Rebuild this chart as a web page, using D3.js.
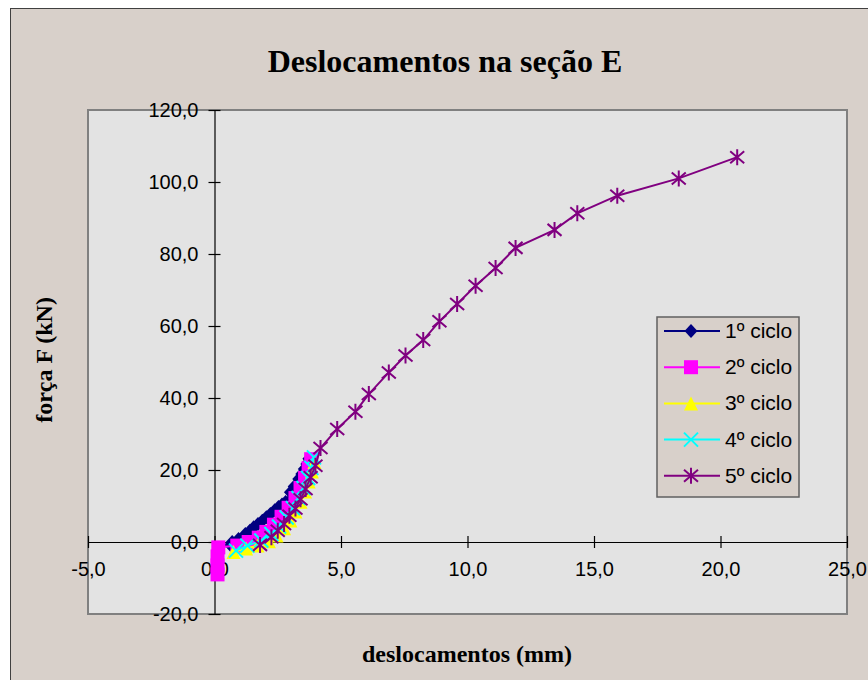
<!DOCTYPE html>
<html>
<head>
<meta charset="utf-8">
<script src="https://cdn.jsdelivr.net/npm/d3@7"></script>
<style>
  body { margin: 0; background: #fff; }
</style>
</head>
<body>
<div id="chart"></div>
<script>
// values (displacement mm, force kN)
const ciclo1X = [0.63, 0.70, 0.95, 1.22, 1.40, 1.55, 1.72, 1.89, 2.05, 2.21, 2.38, 2.53, 2.67, 2.81, 3.00, 3.15, 3.33, 3.45, 3.55, 3.65, 3.73];
const ciclo1Y = [-0.8, 0.0, 0.8, 2.2, 3.1, 4.1, 5.0, 5.9, 6.9, 7.8, 8.8, 9.7, 10.4, 11.1, 13.8, 15.4, 17.5, 18.9, 20.3, 21.7, 23.1];

const ciclo2X = [0.12, 0.12, 0.12, 0.15, 0.90, 1.35, 1.75, 2.05, 2.35, 2.65, 2.93, 3.20, 3.40, 3.58, 3.72, 3.82];
const ciclo2Y = [-9.0, -6.5, -4.0, -1.5, -1.0, 0.0, 1.2, 2.8, 4.8, 7.0, 9.5, 12.2, 15.0, 17.8, 20.5, 23.0];

const ciclo3X = [0.75, 1.25, 1.70, 2.15, 2.45, 2.75, 3.00, 3.20, 3.40, 3.58, 3.72, 3.85, 3.95];
const ciclo3Y = [-2.8, -1.8, -1.0, 0.2, 1.8, 3.8, 6.0, 8.5, 11.2, 14.0, 16.8, 19.6, 22.2];

const ciclo4X = [0.85, 1.30, 1.85, 2.25, 2.55, 2.85, 3.10, 3.32, 3.52, 3.70, 3.83, 3.93];
const ciclo4Y = [-2.4, -1.0, 0.4, 2.2, 4.3, 6.8, 9.4, 12.2, 15.0, 17.8, 20.6, 23.5];

const ciclo5X = [1.80, 2.25, 2.50, 2.75, 2.96, 3.20, 3.40, 3.60, 3.80, 3.99, 4.19, 4.85, 5.57, 6.10, 6.89, 7.55, 8.25, 8.89, 9.59, 10.32, 11.11, 11.90, 13.44, 14.34, 15.92, 18.35, 20.66];
const ciclo5Y = [-0.8, 1.3, 3.1, 5.0, 7.3, 9.3, 11.9, 14.7, 18.0, 21.2, 26.1, 31.4, 36.2, 41.1, 47.1, 51.8, 56.1, 61.3, 66.1, 71.2, 76.1, 81.7, 86.7, 91.3, 96.2, 101.0, 106.9];

const serieNomes = ["1º ciclo", "2º ciclo", "3º ciclo", "4º ciclo", "5º ciclo"];
const serieCores = ["#000080", "#ff00ff", "#ffff00", "#00ffff", "#800080"];
const serieMarcas = ["diamond", "square", "triangle", "x", "star"];

const xTicks = [-5, 0, 5, 10, 15, 20, 25];
const yTicks = [-20, 0, 20, 40, 60, 80, 100, 120];

const series = [
    [ciclo1X, ciclo1Y], [ciclo2X, ciclo2Y], [ciclo3X, ciclo3Y], [ciclo4X, ciclo4Y], [ciclo5X, ciclo5Y]
].map(([xs, ys], i) => ({
    name: serieNomes[i],
    color: serieCores[i],
    marker: serieMarcas[i],
    points: xs.map((x, j) => ({ x: x, y: ys[j] }))
}));

const width = 868, height = 680;
const plot = { left: 88, top: 110, right: 847, bottom: 614 };

const svg = d3.select("#chart").append("svg")
    .attr("width", width)
    .attr("height", height);

// chart area
svg.append("rect")
    .attr("x", 10.5).attr("y", 8.5)
    .attr("width", width).attr("height", height)
    .attr("fill", "#d8d0ca")
    .attr("stroke", "#404040")
    .attr("stroke-width", 1);

// plot area
svg.append("rect")
    .attr("x", plot.left).attr("y", plot.top)
    .attr("width", plot.right - plot.left).attr("height", plot.bottom - plot.top)
    .attr("fill", "#e3e3e3")
    .attr("stroke", "#808080")
    .attr("stroke-width", 2);

const x = d3.scaleLinear().domain([-5, 25]).range([plot.left, plot.right]);
const y = d3.scaleLinear().domain([-20, 120]).range([plot.bottom, plot.top]);

const fmt = d => d.toFixed(1).replace(".", ",");

// x axis crossing at y = 0
const xAxis = svg.append("g")
    .attr("transform", `translate(0,${y(0)})`)
    .call(d3.axisBottom(x).tickValues(xTicks).tickFormat(fmt).tickSize(6).tickSizeOuter(0));
xAxis.selectAll(".tick line").attr("y1", -6).attr("y2", 6);
xAxis.selectAll(".tick text").attr("y", 20);

// y axis crossing at x = 0
const yAxis = svg.append("g")
    .attr("transform", `translate(${x(0)},0)`)
    .call(d3.axisLeft(y).tickValues(yTicks).tickFormat(fmt).tickSize(6).tickSizeOuter(0));
yAxis.selectAll(".tick line").attr("x1", -6).attr("x2", 6);
yAxis.selectAll(".tick text").attr("x", -16);

svg.selectAll(".domain").attr("stroke", "#000").attr("stroke-width", 1.2);
svg.selectAll(".tick line").attr("stroke", "#000").attr("stroke-width", 1.2);
svg.selectAll(".tick text")
    .style("font-family", "Arial, 'Liberation Sans', sans-serif")
    .style("font-size", "20px")
    .attr("fill", "#000");

// markers
function drawMarker(g, type, color) {
    if (type === "diamond") {
        g.append("path").attr("d", "M0,-7L6.5,0L0,7L-6.5,0Z").attr("fill", color);
    } else if (type === "square") {
        g.append("rect").attr("x", -7).attr("y", -7).attr("width", 14).attr("height", 14).attr("fill", color);
    } else if (type === "triangle") {
        g.append("path").attr("d", "M0,-7L7,7L-7,7Z").attr("fill", color);
    } else if (type === "x") {
        g.append("path").attr("d", "M-7,-7L7,7M-7,7L7,-7").attr("stroke", color).attr("stroke-width", 2);
    } else if (type === "star") {
        g.append("path").attr("d", "M-7,-6L7,6M-7,6L7,-6M0,-8L0,8").attr("stroke", color).attr("stroke-width", 2);
    }
}

const line = d3.line().x(d => x(d.x)).y(d => y(d.y));

series.forEach(s => {
    const g = svg.append("g");
    g.append("path")
        .datum(s.points)
        .attr("d", line)
        .attr("fill", "none")
        .attr("stroke", s.color)
        .attr("stroke-width", 2);
    g.selectAll("g.m")
        .data(s.points)
        .enter()
        .append("g")
        .attr("class", "m")
        .attr("transform", d => `translate(${x(d.x)},${y(d.y)})`)
        .each(function() { drawMarker(d3.select(this), s.marker, s.color); });
});

// titles
svg.append("text")
    .attr("x", 445).attr("y", 72)
    .attr("text-anchor", "middle")
    .style("font-family", "'Times New Roman', 'Liberation Serif', serif")
    .style("font-weight", "bold")
    .style("font-size", "32px")
    .text("Deslocamentos na seção E");

svg.append("text")
    .attr("x", 467).attr("y", 662)
    .attr("text-anchor", "middle")
    .style("font-family", "'Times New Roman', 'Liberation Serif', serif")
    .style("font-weight", "bold")
    .style("font-size", "24px")
    .text("deslocamentos (mm)");

svg.append("text")
    .attr("transform", "translate(52,360) rotate(-90)")
    .attr("text-anchor", "middle")
    .style("font-family", "'Times New Roman', 'Liberation Serif', serif")
    .style("font-weight", "bold")
    .style("font-size", "24px")
    .text("força F (kN)");

// legend
const legend = svg.append("g").attr("transform", "translate(657,317)");
legend.append("rect")
    .attr("width", 142).attr("height", 180)
    .attr("fill", "#d8d0ca")
    .attr("stroke", "#606060")
    .attr("stroke-width", 1.5);

series.forEach((s, i) => {
    const row = legend.append("g").attr("transform", `translate(0,${14 + i * 36.2})`);
    row.append("line")
        .attr("x1", 7).attr("x2", 63)
        .attr("stroke", s.color)
        .attr("stroke-width", 2);
    drawMarker(row.append("g").attr("transform", "translate(34,0)"), s.marker, s.color);
    row.append("text")
        .attr("x", 68).attr("y", 7)
        .style("font-family", "Arial, 'Liberation Sans', sans-serif")
        .style("font-size", "21px")
        .text(s.name);
});
</script>
</body>
</html>
